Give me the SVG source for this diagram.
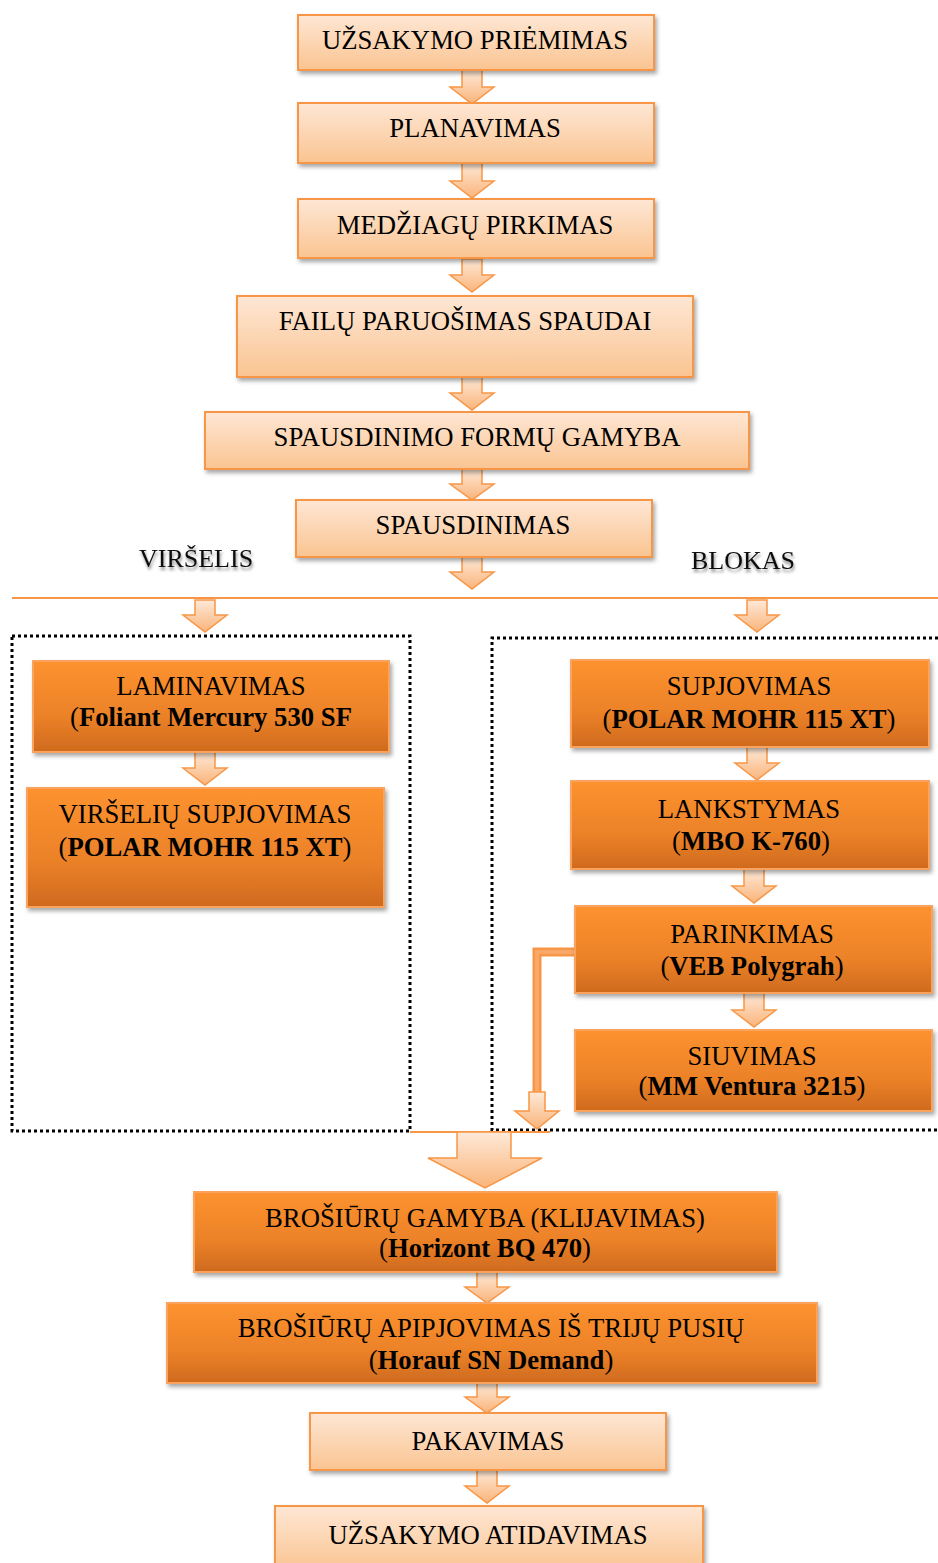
<svg xmlns="http://www.w3.org/2000/svg" width="938" height="1563" viewBox="0 0 938 1563">
<defs>
<linearGradient id="gLight" x1="0" y1="0" x2="0" y2="1">
<stop offset="0" stop-color="#fee7d5"/>
<stop offset="1" stop-color="#fac491"/>
</linearGradient>
<linearGradient id="gDark" x1="0" y1="0" x2="0" y2="1">
<stop offset="0" stop-color="#fd922f"/>
<stop offset="0.6" stop-color="#ec8228"/>
<stop offset="1" stop-color="#cf6a1e"/>
</linearGradient>
<linearGradient id="gArrow" x1="0" y1="0" x2="0" y2="1">
<stop offset="0" stop-color="#fee9d8"/>
<stop offset="1" stop-color="#fab47a"/>
</linearGradient>
<filter id="sh" x="-10%" y="-20%" width="120%" height="150%">
<feDropShadow dx="2" dy="3" stdDeviation="2" flood-color="#000" flood-opacity="0.35"/>
</filter>
<filter id="tsh" x="-10%" y="-30%" width="120%" height="170%">
<feDropShadow dx="1" dy="3" stdDeviation="1.5" flood-color="#000" flood-opacity="0.45"/>
</filter>
</defs>
<style>
.light{fill:url(#gLight);stroke:#f79646;stroke-width:2;filter:url(#sh)}
.dark{fill:url(#gDark);stroke:#f9a35e;stroke-width:2;filter:url(#sh)}
.arr{fill:url(#gArrow);stroke:#f79646;stroke-width:1.5;stroke-linejoin:miter}
.t{font-family:"Liberation Serif","Times New Roman",serif;font-size:26.7px;fill:#000;text-anchor:middle}
.b{font-weight:bold}
.dot{fill:none;stroke:#000;stroke-width:3;stroke-dasharray:3 3}
.lbl{font-family:"Liberation Serif","Times New Roman",serif;font-size:26px;fill:#111;filter:url(#tsh)}
</style>
<rect width="938" height="1563" fill="#fff"/>

<g id="frames">
<rect class="dot" x="12" y="636" width="398" height="495"/>
<path class="dot" d="M938,638 H492 V1130 H938"/>
</g>

<g id="connectors">
<path class="arr" d="M462,70 H482 V87 H494 L472,104 L450,87 H462 Z"/>
<path class="arr" d="M462,163 H482 V181 H494 L472,198 L450,181 H462 Z"/>
<path class="arr" d="M462,259 H482 V275 H494 L472,292 L450,275 H462 Z"/>
<path class="arr" d="M462,377 H482 V393 H494 L472,410 L450,393 H462 Z"/>
<path class="arr" d="M462,469 H482 V484 H494 L472,500 L450,484 H462 Z"/>
<path class="arr" d="M462,557 H482 V572 H494 L472,589 L450,572 H462 Z"/>
<line x1="12" y1="598" x2="938" y2="598" stroke="#f79646" stroke-width="2"/>
<path class="arr" d="M195,600 H215 V615 H227 L205,632 L183,615 H195 Z"/>
<path class="arr" d="M747,600 H767 V615 H779 L757,632 L735,615 H747 Z"/>
<path class="arr" d="M195,752 H215 V768 H227 L205,785 L183,768 H195 Z"/>
<path class="arr" d="M747,747 H767 V763 H779 L757,780 L735,763 H747 Z"/>
<path class="arr" d="M744,869 H764 V886 H776 L754,903 L732,886 H744 Z"/>
<path class="arr" d="M744,993 H764 V1010 H776 L754,1027 L732,1010 H744 Z"/>
<path d="M577,952 H537 V1094" fill="none" stroke="#f79646" stroke-width="9"/>
<path d="M577,952 H537 V1094" fill="none" stroke="#f9a868" stroke-width="4"/>
<path class="arr" d="M529,1092 H545 V1111 H559 L537,1129 L515,1111 H529 Z"/>
<line x1="410" y1="1132" x2="550" y2="1132" stroke="#f79646" stroke-width="2"/>
<path class="arr" d="M457,1132 H511 V1158 H542 L485,1188 L428,1158 H457 Z"/>
<path class="arr" d="M477,1272 H497 V1287 H509 L487,1303 L465,1287 H477 Z"/>
<path class="arr" d="M477,1383 H497 V1397 H509 L487,1413 L465,1397 H477 Z"/>
<path class="arr" d="M477,1470 H497 V1486 H509 L487,1503 L465,1486 H477 Z"/>
</g>

<g id="labels">
<text class="lbl" x="139" y="567">VIRŠELIS</text>
<text class="lbl" x="691" y="569">BLOKAS</text>
</g>

<g id="n1"><rect class="light" x="298" y="15" width="356" height="55"/><text class="t" x="475" y="49">UŽSAKYMO PRIĖMIMAS</text></g>
<g id="n2"><rect class="light" x="298" y="103" width="356" height="60"/><text class="t" x="475" y="137">PLANAVIMAS</text></g>
<g id="n3"><rect class="light" x="298" y="199" width="356" height="59"/><text class="t" x="475" y="234">MEDŽIAGŲ PIRKIMAS</text></g>
<g id="n4"><rect class="light" x="237" y="296" width="456" height="81"/><text class="t" x="465" y="330">FAILŲ PARUOŠIMAS SPAUDAI</text></g>
<g id="n5"><rect class="light" x="205" y="412" width="544" height="57"/><text class="t" x="477" y="446">SPAUSDINIMO FORMŲ GAMYBA</text></g>
<g id="n6"><rect class="light" x="296" y="500" width="356" height="57"/><text class="t" x="473" y="534">SPAUSDINIMAS</text></g>

<g id="n7"><rect class="dark" x="33" y="661" width="356" height="91"/><text class="t" x="211" y="695">LAMINAVIMAS</text><text class="t" x="211" y="726">(<tspan class="b">Foliant Mercury 530 SF</tspan></text></g>
<g id="n8"><rect class="dark" x="27" y="788" width="357" height="119"/><text class="t" x="205" y="823">VIRŠELIŲ SUPJOVIMAS</text><text class="t" x="205" y="856">(<tspan class="b">POLAR MOHR 115 XT</tspan>)</text></g>

<g id="n9"><rect class="dark" x="571" y="660" width="358" height="87"/><text class="t" x="749" y="695">SUPJOVIMAS</text><text class="t" x="749" y="728">(<tspan class="b">POLAR MOHR 115 XT</tspan>)</text></g>
<g id="n10"><rect class="dark" x="571" y="781" width="358" height="88"/><text class="t" x="749" y="818">LANKSTYMAS</text><text class="t" x="751" y="850">(<tspan class="b">MBO K-760</tspan>)</text></g>
<g id="n11"><rect class="dark" x="575" y="906" width="357" height="87"/><text class="t" x="752" y="943">PARINKIMAS</text><text class="t" x="752" y="975">(<tspan class="b">VEB Polygrah</tspan>)</text></g>
<g id="n12"><rect class="dark" x="575" y="1030" width="357" height="81"/><text class="t" x="752" y="1065">SIUVIMAS</text><text class="t" x="752" y="1095">(<tspan class="b">MM Ventura 3215</tspan>)</text></g>

<g id="n13"><rect class="dark" x="194" y="1192" width="583" height="80"/><text class="t" x="485" y="1227">BROŠIŪRŲ GAMYBA (KLIJAVIMAS)</text><text class="t" x="485" y="1257">(<tspan class="b">Horizont BQ 470</tspan>)</text></g>
<g id="n14"><rect class="dark" x="167" y="1303" width="650" height="80"/><text class="t" x="491" y="1337">BROŠIŪRŲ APIPJOVIMAS IŠ TRIJŲ PUSIŲ</text><text class="t" x="491" y="1369">(<tspan class="b">Horauf SN Demand</tspan>)</text></g>

<g id="n15"><rect class="light" x="310" y="1413" width="356" height="57"/><text class="t" x="488" y="1450">PAKAVIMAS</text></g>
<g id="n16"><rect class="light" x="275" y="1506" width="428" height="65"/><text class="t" x="488" y="1544">UŽSAKYMO ATIDAVIMAS</text></g>
</svg>
